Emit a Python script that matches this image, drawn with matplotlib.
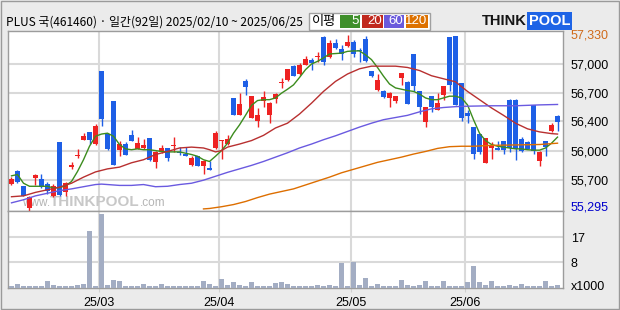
import matplotlib
matplotlib.use('Agg')
import matplotlib.pyplot as plt
from matplotlib.patches import Rectangle

# chart data (prices in won, volume in thousands)
title = 'PLUS 국(461460) · 일간(92일) 2025/02/10 ~ 2025/06/25'
month_pos = [14.5, 34.5, 56.5, 75.5]
month_labels = ['25/03', '25/04', '25/05', '25/06']
price_ticks = [57000, 56670, 56340, 56000, 55670]
price_labels = ['57,000', '56,700', '56,400', '56,000', '55,700']
vol_ticks = [17.4, 8.7]
vol_labels = ['17', '8']
ma_names = ['5', '20', '60', '120']

opens = [55620, 55765, 55595, 55345, 55690, 55675, 55620, 55480, 56105, 55525,
         55815, 55940, 56130, 56215, 56085, 56915, 56195, 56580, 56015, 56080,
         56185, 56025, 56030, 56145, 55870, 55985, 56035, 56060, 55990, 55970,
         55840, 55945, 55825, 55805, 56035, 56110, 56080, 56610, 56415, 56800,
         56385, 56350, 56575, 56415, 56600, 56780, 56815, 56980, 56880, 56990,
         57045, 57080, 57310, 57075, 57240, 57170, 57210, 57250, 57165, 57285,
         56920, 56700, 56685, 56605, 56580, 56840, 56795, 57115, 56685, 56335,
         56630, 56475, 56645, 57310, 57325, 56780, 56435, 56275, 56190, 55865,
         56035, 56035, 56110, 56590, 56590, 56140, 56105, 56525, 55890, 56110,
         56225, 56405]
highs = [55700, 55785, 55595, 55480, 55735, 55735, 55645, 55620, 56105, 55645,
         55875, 56025, 56205, 56215, 56310, 56915, 56195, 56580, 56115, 56105,
         56245, 56160, 56135, 56145, 55995, 56075, 56040, 56160, 56045, 56045,
         55945, 55945, 55900, 55880, 56225, 56125, 56180, 56610, 56670, 56825,
         56635, 56490, 56690, 56560, 56665, 56835, 56945, 56985, 57010, 57090,
         57065, 57140, 57320, 57275, 57285, 57215, 57330, 57280, 57180, 57325,
         56920, 56890, 56705, 56675, 56635, 56900, 56810, 57115, 56690, 56510,
         56635, 56665, 56750, 57315, 57325, 56785, 56475, 56280, 56195, 56150,
         56105, 56110, 56115, 56595, 56595, 56160, 56110, 56530, 55995, 56115,
         56320, 56410]
lows = [55615, 55630, 55480, 55295, 55615, 55575, 55510, 55470, 55485, 55480,
        55795, 55920, 56125, 56085, 56075, 56290, 56010, 55840, 55945, 55950,
        56115, 56020, 56025, 55885, 55810, 55980, 55890, 55990, 55950, 55945,
        55825, 55830, 55740, 55785, 56025, 55910, 56075, 56415, 56410, 56645,
        56380, 56275, 56505, 56320, 56550, 56720, 56810, 56860, 56875, 56985,
        56930, 57020, 56985, 57070, 57175, 57050, 57200, 57075, 57025, 57025,
        56845, 56685, 56610, 56505, 56550, 56760, 56540, 56685, 56425, 56275,
        56445, 56470, 56590, 56695, 56525, 56350, 56320, 55910, 55965, 55860,
        55910, 56010, 55970, 55985, 55900, 55990, 56020, 55970, 55825, 55940,
        56220, 56235]
closes = [55680, 55645, 55485, 55470, 55725, 55585, 55545, 55595, 55500, 55630,
          55845, 55960, 56175, 56130, 56290, 56370, 56025, 55845, 56080, 55960,
          56120, 56095, 56065, 55900, 55990, 56030, 55920, 56070, 55980, 55945,
          55920, 55830, 55880, 55785, 56205, 56125, 56140, 56415, 56540, 56740,
          56630, 56415, 56615, 56555, 56655, 56795, 56940, 56865, 56990, 57055,
          57015, 57090, 57020, 57240, 57180, 57110, 57250, 57110, 57150, 57030,
          56865, 56815, 56615, 56670, 56630, 56895, 56545, 56750, 56505, 56505,
          56505, 56550, 56745, 56760, 56530, 56380, 56405, 55965, 55990, 56150,
          56065, 56015, 56015, 56035, 56025, 55995, 56025, 55995, 55990, 56045,
          56300, 56330]
volumes = [0.45, 1.2, 0.45, 0.45, 0.45, 0.45, 2.25, 0.85, 0.45, 0.45,
           0.45, 0.85, 1.2, 19.6, 0.45, 25.5, 0.85, 2.6, 2.25, 0.45,
           0.45, 0.45, 1.2, 0.45, 0.45, 1.2, 0.45, 0.45, 0.45, 0.45,
           0.45, 0.45, 2.25, 1.2, 0.45, 2.9, 0.85, 1.9, 0.85, 0.45,
           1.9, 0.45, 0.45, 0.45, 1.55, 1.9, 1.2, 0.45, 0.45, 0.45,
           0.45, 0.85, 0.45, 0.85, 0.45, 8.6, 0.45, 8.9, 0.85, 3.4,
           0.45, 1.2, 0.45, 0.45, 0.45, 2.6, 0.85, 0.45, 0.85, 2.25,
           0.45, 0.45, 2.25, 0.45, 0.45, 0.45, 1.9, 7.4, 1.9, 0.85,
           2.25, 0.45, 0.45, 0.85, 0.45, 1.2, 0.45, 0.45, 0.45, 2.25,
           0.45, 0.85]

ma5 = [55715, 55730, 55630, 55595, 55595, 55595, 55595, 55575, 55580, 55600,
       55650, 55765, 55900, 56055, 56170, 56195, 56205, 56170, 56075, 56025,
       56015, 56025, 56015, 56015, 56005, 55995, 55990, 55990, 55990, 55975,
       55960, 55940, 55900, 55880, 55940, 56005, 56090, 56205, 56300, 56410,
       56525, 56580, 56590, 56590, 56610, 56665, 56710, 56760, 56845, 56935,
       57000, 57030, 57070, 57115, 57120, 57125, 57145, 57150, 57150, 57105,
       57050, 56960, 56860, 56770, 56725, 56710, 56695, 56685, 56655, 56610,
       56590, 56590, 56610, 56630, 56630, 56610, 56530, 56360, 56205, 56120,
       56075, 56055, 56045, 56035, 56025, 56025, 56015, 56010, 56010, 56035,
       56090, 56160]
ma20_x = [0, 2, 4, 6, 8, 10, 12, 14, 16, 18, 20, 22, 24, 26, 28, 30, 32, 33, 34, 35,
          36, 38, 40, 42, 44, 46, 48, 50, 52, 54, 56, 58, 60, 62, 64, 66, 68, 70,
          72, 74, 76, 78, 80, 82, 84, 86, 88, 90, 91]
ma20 = [55475, 55485, 55525, 55555, 55585, 55630, 55700, 55760, 55795, 55815,
        55865, 55900, 55960, 55995, 56035, 56045, 56035, 56015, 55990, 56005,
        56045, 56080, 56120, 56180, 56265, 56320, 56425, 56550, 56685, 56800,
        56885, 56945, 56975, 56975, 56975, 56960, 56925, 56865, 56830, 56795,
        56685, 56590, 56495, 56410, 56320, 56255, 56220, 56200, 56195]
ma60_x = [0, 2, 4, 6, 8, 10, 12, 14, 15, 18, 20, 22, 24, 26, 28, 30, 32, 34, 36, 38,
          40, 42, 44, 46, 48, 50, 52, 54, 56, 58, 60, 62, 64, 66, 68, 70, 72, 74,
          76, 80, 84, 88, 91]
ma60 = [55405, 55440, 55485, 55515, 55545, 55565, 55590, 55615, 55620, 55605,
        55605, 55615, 55590, 55595, 55615, 55630, 55665, 55710, 55755, 55795,
        55835, 55880, 55930, 55980, 56035, 56080, 56130, 56175, 56225, 56275,
        56320, 56360, 56385, 56410, 56450, 56485, 56500, 56510, 56515, 56520,
        56520, 56530, 56535]
ma120_x = [32, 33, 35, 37, 39, 41, 43, 45, 47, 49, 51, 53, 55, 57, 59, 61, 63, 65,
           67, 69, 71, 73, 75, 77, 80, 84, 88, 91]
ma120 = [55335, 55340, 55360, 55385, 55420, 55465, 55505, 55535, 55565, 55610,
         55655, 55700, 55750, 55790, 55830, 55870, 55900, 55930, 55965, 55995,
         56030, 56050, 56055, 56055, 56065, 56070, 56075, 56090]

W, H = 620, 310
RED, BLUE = '#EE2222', '#1E5FE6'
ma_colors = ['#3C8C1E', '#B83030', '#6A5AE0', '#DD6E00']
box_colors = ['#3F8F2B', '#C0281E', '#6A5ADC', '#DD7100']
narrow = ['Liberation Sans Narrow', 'Liberation Sans', 'DejaVu Sans']
korean = ['Noto Sans CJK KR', 'DejaVu Sans']


def fx(px):
    return px / W


def fy(py):
    return 1 - py / H


fig = plt.figure(figsize=(6.2, 3.1), dpi=100)
fig.patch.set_facecolor('#EBEBEB')

ax = fig.add_axes([fx(8), fy(211), fx(562.5 - 8), (211 - 31) / H])
axv = fig.add_axes([fx(8), fy(287.5), fx(562.5 - 8), (287.5 - 211) / H], sharex=ax)

# candles
xs = list(range(len(opens)))
cols = [RED if c >= o else BLUE for o, c in zip(opens, closes)]
bottoms = [min(o, c) for o, c in zip(opens, closes)]
heights = [max(abs(c - o), 12) for o, c in zip(opens, closes)]
ax.vlines(xs, lows, highs, colors=cols, lw=1, zorder=3)
ax.bar(xs, heights, bottom=bottoms, width=0.83, color=cols, lw=0, zorder=4)

# moving averages
ax.plot(xs, ma5, color=ma_colors[0], lw=1, zorder=5)
ax.plot(ma20_x, ma20, color=ma_colors[1], lw=1, zorder=5)
ax.plot(ma60_x, ma60, color=ma_colors[2], lw=1, zorder=5)
ax.plot(ma120_x, ma120, color=ma_colors[3], lw=1, zorder=5)

ax.set_xlim(-0.583, 91.83)
ax.set_ylim(55311, 57379)
ax.set_yticks(price_ticks, price_labels)
ax.set_xticks(month_pos)
ax.yaxis.tick_right()
ax.tick_params(axis='y', length=0, pad=6, labelsize=9)
ax.tick_params(axis='x', length=0, labelbottom=False)
for lab in ax.get_yticklabels():
    lab.set_family(narrow)
ax.grid(True, color='#D9D9D9', lw=1.5)
ax.set_axisbelow(True)

# high / low markers on the price scale
ax.text(1.0152, max(highs), f'{max(highs):,}', transform=ax.get_yaxis_transform(),
        va='center', ha='left', fontsize=9, family=narrow, color='#D06A1A')
ax.text(1.0152, 0.022, f'{min(lows):,}', transform=ax.transAxes,
        va='center', ha='left', fontsize=9, family=narrow, color='#0000CC')

# watermark, pieces chained one after another
w1 = ax.text(fx(22), fy(209), 'www.', transform=fig.transFigure, fontsize=8.5,
             color='#B4B4B4', family=narrow, zorder=1, va='bottom')
w2 = ax.annotate('THINKPOOL', xy=(1, 0), xycoords=w1, va='bottom', ha='left',
                 fontsize=11, weight='bold', color='#C8C8C8', family=narrow, zorder=1)
ax.annotate('.com', xy=(1, 0), xycoords=w2, va='bottom', ha='left', fontsize=8.5,
            color='#B4B4B4', family=narrow, zorder=1)

# volume panel
axv.bar(xs, volumes, width=0.83, color='#A3ADC3', lw=0, zorder=3)
axv.set_ylim(0, 26.5)
axv.set_yticks(vol_ticks, vol_labels)
axv.yaxis.tick_right()
axv.tick_params(axis='y', length=0, pad=6, labelsize=9)
axv.set_xticks(month_pos, month_labels)
axv.tick_params(axis='x', length=3, color='#D0D0D0', pad=4, labelsize=9)
for lab in axv.get_yticklabels() + axv.get_xticklabels():
    lab.set_family(narrow)
axv.grid(True, color='#D9D9D9', lw=1.5)
axv.set_axisbelow(True)
axv.text(1.0152, 0.0, 'x1000', transform=axv.transAxes, va='center', ha='left',
         fontsize=9, family=narrow)

for a in (ax, axv):
    for s in a.spines.values():
        s.set_color('#9C9C9C')
        s.set_linewidth(1)

# header
fig.text(fx(6), fy(22), title, va='center', ha='left', fontsize=8.6, family=korean)

fig.add_artist(Rectangle((fx(309), fy(29.5)), fx(121), 16.5 / H, transform=fig.transFigure,
                         fc='white', ec='#A0A0A0', lw=1))
fig.text(fx(312), fy(21.5), '이평', va='center', ha='left', fontsize=9.5, family=korean)
box_x = [340, 362, 384, 406]
box_w = [20, 21, 20, 22]
for name, col, bx, bw in zip(ma_names, box_colors, box_x, box_w):
    fig.add_artist(Rectangle((fx(bx), fy(27.5)), fx(bw), 12.5 / H,
                             transform=fig.transFigure, fc=col, ec='none'))
    fig.text(fx(bx + bw - 1), fy(21.5), name, va='center', ha='right', color='white',
             fontsize=9.5, family=narrow)

# logo
fig.text(fx(482), fy(21), 'THINK', va='center', ha='left', fontsize=10.5,
         weight='bold', family=narrow, color='#151515')
fig.text(fx(529), fy(21), 'POOL', va='center', ha='left', fontsize=10.5,
         weight='bold', family=narrow, color='white',
         bbox=dict(boxstyle='square,pad=0.12', fc='#1E64E6', ec='none'))

# outer frame
fig.add_artist(Rectangle((fx(1), fy(308.5)), fx(618), 307.5 / H, transform=fig.transFigure,
                         fc='none', ec='#9A9A9A', lw=1))

fig.savefig('out.png', dpi=100, facecolor=fig.get_facecolor())
